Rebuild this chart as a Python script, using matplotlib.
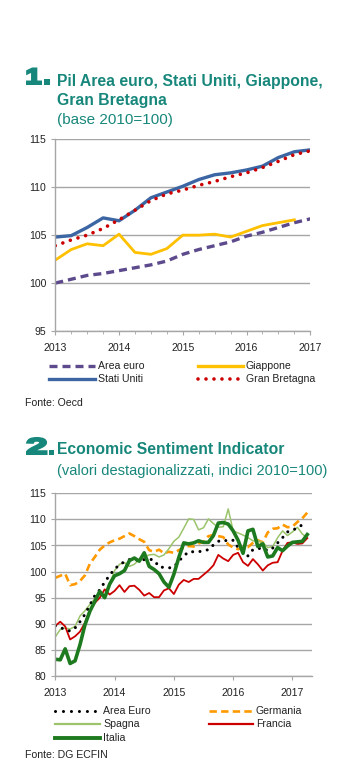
import matplotlib
matplotlib.use('Agg')
import matplotlib.pyplot as plt
from matplotlib.lines import Line2D
from matplotlib.patches import PathPatch, Rectangle
from matplotlib.textpath import TextPath
from matplotlib.font_manager import FontProperties
from matplotlib.transforms import Affine2D, IdentityTransform
import numpy as np

W, H = 350, 772

# Chart 1: PIL quarterly, base 2010=100 (2013Q1 ...)
area_euro = [100.0, 100.4, 100.8, 101.0, 101.3, 101.6, 101.9, 102.3, 103.0,
             103.5, 103.9, 104.3, 104.9, 105.3, 105.8, 106.3, 106.7]
stati_uniti = [104.8, 104.95, 105.8, 106.8, 106.5, 107.6, 108.9, 109.5, 110.1,
               110.8, 111.3, 111.5, 111.8, 112.2, 113.1, 113.7, 113.9]
giappone = [102.4, 103.5, 104.1, 103.9, 105.1, 103.2, 103.0, 103.6, 105.0,
            105.0, 105.1, 104.8, 105.4, 106.0, 106.3, 106.6]
gran_bretagna = [103.9, 104.5, 105.0, 105.7, 106.6, 107.6, 108.6, 109.3, 109.7,
                 110.2, 110.6, 111.1, 111.5, 112.05, 112.7, 113.4, 113.8]

# Chart 2: Economic Sentiment Indicator, monthly from Jan 2013
esi_area_euro = [89.6, 89.3, 88.9, 88.6, 89.2, 90.4, 91.8, 93.6, 95.4, 96.5,
                 98.0, 99.3, 100.5, 101.3, 101.9, 102.3, 102.3, 102.1, 102.3, 102.4,
                 102.2, 100.9, 100.8, 100.7, 100.9, 102.0, 103.0, 103.8, 103.8, 103.8,
                 104.0, 104.2, 105.1, 105.8, 106.1, 105.8, 106.0, 104.6, 104.1, 103.0,
                 104.2, 104.4, 104.5, 104.0, 104.5, 105.5, 106.5, 107.6, 108.0, 108.3,
                 109.0, 109.0]
esi_germania = [98.8, 99.2, 99.6, 97.4, 97.6, 98.2, 99.3, 101.5, 102.8, 104.2,
                105.0, 105.6, 106.0, 106.3, 106.8, 107.3, 106.8, 106.2, 105.7, 104.1,
                103.8, 104.2, 103.5, 103.8, 103.6, 104.1, 104.6, 104.9, 104.8, 105.4,
                105.7, 106.8, 107.0, 106.8, 106.6, 105.2, 104.6, 104.3, 104.6, 104.7,
                105.5, 106.0, 105.6, 107.5, 108.2, 108.3, 109.0, 108.5, 108.6, 109.5,
                110.2, 111.3]
esi_spagna = [87.5, 88.9, 89.2, 89.0, 89.5, 91.5, 92.5, 93.7, 94.8, 96.4,
              95.0, 97.6, 100.2, 101.4, 101.7, 101.0, 101.4, 102.3, 102.8, 103.2,
              103.3, 102.8, 103.2, 104.4, 105.8, 106.6, 108.3, 110.1, 110.0, 108.0,
              108.4, 110.1, 109.2, 108.5, 108.6, 112.0, 107.8, 107.4, 107.0, 106.5,
              105.9, 105.9, 105.6, 104.6, 104.8, 106.5, 107.8, 106.9, 107.6, 108.5,
              107.2, 106.5]
esi_francia = [89.6, 90.4, 89.5, 87.0, 87.6, 88.5, 90.2, 92.6, 94.0, 95.0,
               96.6, 95.6, 96.3, 97.4, 96.1, 97.2, 97.3, 96.5, 95.4, 95.9,
               95.1, 95.1, 96.4, 96.8, 95.7, 97.5, 98.4, 98.0, 98.6, 98.6,
               99.4, 100.2, 101.2, 103.2, 102.5, 102.0, 103.2, 103.6, 101.8, 101.1,
               102.4, 101.4, 100.2, 101.2, 101.7, 101.8, 104.0, 105.5, 105.6, 105.3,
               105.4, 106.4]
esi_italia = [83.2, 83.1, 85.2, 82.4, 82.9, 86.0, 89.8, 92.4, 94.3, 96.2,
              95.0, 97.6, 99.2, 99.6, 100.2, 102.1, 102.6, 102.0, 103.6, 101.0,
              100.4, 99.6, 98.0, 97.0, 99.5, 102.7, 105.5, 105.3, 105.5, 105.9,
              105.6, 105.6, 106.9, 109.3, 109.4, 109.1, 107.8, 106.0, 103.5, 107.8,
              108.1, 104.8, 105.3, 102.8, 103.0, 104.6, 104.0, 104.9, 105.6, 105.7,
              105.8, 107.1]

years = [2013, 2014, 2015, 2016, 2017]

TEAL = '#17877b'
GRID = '#a6a6a6'
C_AE = '#5c4a8c'
C_US = '#3b66a3'
C_JP = '#ffc000'
C_UK = '#cc0000'
C_DE = '#ff9900'
C_ES = '#9bc46b'
C_FR = '#cc0000'
C_IT = '#1e7a1e'

SANS = ['Liberation Sans', 'DejaVu Sans']
plt.rcParams['font.family'] = SANS

fig = plt.figure(figsize=(W / 100, H / 100), dpi=100)
fig.patch.set_facecolor('white')


def fx(x):
    return x / W


def fy(y):
    return 1 - y / H


def style_axes(ax):
    for s in ['top', 'right']:
        ax.spines[s].set_visible(False)
    for s in ['left', 'bottom']:
        ax.spines[s].set_color(GRID)
        ax.spines[s].set_linewidth(1.0)
    ax.yaxis.grid(True, color=GRID, linewidth=1.0)
    ax.set_axisbelow(True)
    ax.tick_params(axis='both', which='both', direction='out', color=GRID,
                   labelsize=7.6, labelcolor='#222222')
    ax.tick_params(axis='y', length=3, pad=3.5)
    ax.tick_params(axis='x', length=3, pad=5.5)


def big_number(num, x0, x1, y_top, y_base, dot_x0, dot_x1):
    # heavy numeral fitted into a pixel box (top-left origin), plus square dot
    tp = TextPath((0, 0), num, size=20, prop=FontProperties(family='Liberation Sans', weight='bold'))
    ext = tp.get_extents()
    inset = 1.1  # half of the stroke width in px
    sx = (x1 - x0 - 2 * inset) / ext.width
    sy = (y_base - y_top - 2 * inset) / ext.height
    tr = Affine2D().translate(-ext.x0, -ext.y0).scale(sx, sy).translate(x0 + inset, H - y_base + inset)
    fig.patches.append(PathPatch(tp, transform=tr + IdentityTransform(), facecolor=TEAL,
                                 edgecolor=TEAL, lw=1.6, joinstyle='miter', figure=fig))
    size = dot_x1 - dot_x0
    fig.patches.append(Rectangle((fx(dot_x0), fy(y_base)), size / W, size / H,
                                 transform=fig.transFigure, facecolor=TEAL, edgecolor='none',
                                 figure=fig))


def title_lines(lines):
    for txt, y, bold, size in lines:
        fig.text(fx(57), fy(y), txt, fontsize=size, color=TEAL, ha='left', va='baseline',
                 fontweight='bold' if bold else 'normal')


def legend_entry(x0, x1, y, label, **kw):
    fig.add_artist(Line2D([fx(x0), fx(x1)], [fy(y), fy(y)], transform=fig.transFigure, **kw))
    fig.text(fx(x1 + 3), fy(y), label, fontsize=7.6, color='#222222', ha='left', va='center')


# ---------- Chart 1 ----------
big_number('1', 26.0, 42.0, 67.5, 85, 44.3, 49.8)
title_lines([('Pil Area euro, Stati Uniti, Giappone,', 86, True, 11.3),
             ('Gran Bretagna', 105, True, 11.3),
             ('(base 2010=100)', 124, False, 11.0)])

ax1 = fig.add_axes([fx(55.3), fy(331), (310.3 - 55.3) / W, (331 - 139.3) / H])
q = 2013 + np.arange(17) / 4
ax1.plot(q, area_euro, color=C_AE, lw=2.4, dashes=(2.4, 1.5), solid_capstyle='butt')
ax1.plot(q[:len(giappone)], giappone, color=C_JP, lw=2.0)
ax1.plot(q, stati_uniti, color=C_US, lw=2.4)
ax1.plot(q, gran_bretagna, color=C_UK, lw=2.6, dashes=(0.01, 2.2), dash_capstyle='round')
ax1.set_xlim(2013, 2017)
ax1.set_ylim(95, 115)
ax1.set_yticks([95, 100, 105, 110, 115])
ax1.set_xticks(years)
ax1.set_xticks(2013 + np.arange(17) / 4, minor=True)
style_axes(ax1)

legend_entry(49, 95, 366, 'Area euro', color=C_AE, lw=2.4, dashes=(2.4, 1.5))
legend_entry(198, 243, 366, 'Giappone', color=C_JP, lw=2.4)
legend_entry(49, 95, 379, 'Stati Uniti', color=C_US, lw=2.4)
legend_entry(198, 243, 379, 'Gran Bretagna', color=C_UK, lw=2.6, dashes=(0.01, 2.2),
             dash_capstyle='round')

fig.text(fx(25), fy(403), 'Fonte: Oecd', fontsize=7.6, color='#222222', ha='left', va='center')

# ---------- Chart 2 ----------
big_number('2', 26.0, 47.5, 437.0, 455, 49.3, 54.3)
title_lines([('Economic Sentiment Indicator', 454, True, 11.3),
             ('(valori destagionalizzati, indici 2010=100)', 475, False, 10.5)])

ax2 = fig.add_axes([fx(55.3), fy(676), (312 - 55.3) / W, (676 - 493.3) / H])
m = 2013 + np.arange(len(esi_area_euro)) / 12
ax2.plot(m, esi_germania, color=C_DE, lw=1.9, dashes=(2.8, 1.6))
ax2.plot(m, esi_spagna, color=C_ES, lw=1.1)
ax2.plot(m, esi_francia, color=C_FR, lw=1.3)
ax2.plot(m, esi_area_euro, color='black', lw=2.2, dashes=(0.01, 2.4), dash_capstyle='round')
ax2.plot(m, esi_italia, color=C_IT, lw=2.6)
ax2.set_xlim(2013, 2017.33)
ax2.set_ylim(80, 115)
ax2.set_yticks(np.arange(80, 116, 5))
ax2.set_xticks(years)
style_axes(ax2)

legend_entry(55, 100, 711, 'Area Euro', color='black', lw=2.2, dashes=(0.01, 2.6),
             dash_capstyle='round')
legend_entry(209, 253, 711, 'Germania', color=C_DE, lw=1.9, dashes=(2.8, 1.6))
legend_entry(55, 100, 724, 'Spagna', color=C_ES, lw=1.6)
legend_entry(209, 253, 724, 'Francia', color=C_FR, lw=1.6)
legend_entry(55, 100, 738, 'Italia', color=C_IT, lw=2.8)

fig.text(fx(25), fy(755), 'Fonte: DG ECFIN', fontsize=7.6, color='#222222', ha='left', va='center')

fig.savefig('out.png', dpi=100, facecolor='white')
